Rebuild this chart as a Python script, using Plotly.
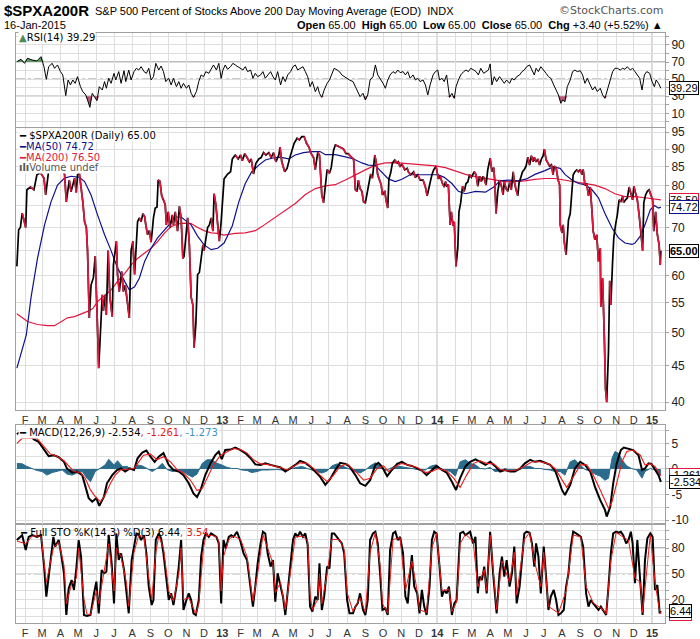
import numpy as np
import pandas as pd
import plotly.graph_objects as go

# dates are kept as day numbers counted from 1 Jan 2013
BASE = pd.Timestamp("2013-01-01")

# ---- $SPXA200R close ----
price_day = [-349, -346, -343, -340, -337, -334, -332, -326, -320, -315, -309, -303, -300, -295, -289, -283,
             -278, -272, -268, -265, -260, -257, -251, -248, -246, -243, -237, -234, -231, -229, -226, -223,
             -219, -216, -213, -210, -207, -204, -202, -199, -197, -194, -191, -187, -185, -180, -178, -175,
             -171, -168, -165, -162, -158, -155, -152, -149, -147, -144, -141, -138, -135, -132, -130, -127,
             -124, -121, -119, -117, -114, -111, -109, -106, -103, -100, -97, -95, -92, -89, -85, -83, -80,
             -76, -73, -70, -67, -65, -62, -59, -56, -53, -50, -48, -45, -42, -39, -36, -33, -31, -28, -25,
             -22, -19, -16, -14, -11, -8, -5, -2, 1, 3, 9, 14, 17, 22, 27, 31, 34, 38, 42, 46, 49, 53, 57,
             62, 66, 70, 74, 79, 83, 87, 91, 96, 98, 101, 106, 110, 114, 118, 122, 127, 131, 135, 139, 143,
             147, 151, 155, 158, 162, 165, 169, 172, 175, 178, 182, 185, 189, 192, 197, 202, 206, 210, 214,
             219, 223, 226, 229, 231, 234, 237, 240, 243, 246, 248, 252, 255, 259, 261, 264, 267, 270, 272,
             276, 278, 281, 283, 286, 289, 293, 297, 299, 302, 305, 310, 314, 316, 320, 325, 328, 332, 336,
             341, 345, 348, 350, 353, 356, 359, 363, 367, 370, 374, 377, 379, 381, 384, 387, 389, 392, 394,
             397, 400, 402, 405, 408, 411, 414, 417, 420, 423, 426, 428, 431, 434, 437, 440, 443, 445, 448,
             451, 455, 458, 461, 463, 465, 468, 471, 474, 477, 479, 482, 485, 488, 491, 494, 496, 499, 502,
             504, 507, 510, 513, 516, 519, 522, 525, 528, 530, 533, 536, 539, 542, 545, 547, 550, 553, 556,
             559, 562, 564, 567, 570, 573, 574, 577, 579, 581, 584, 586, 588, 591, 594, 596, 599, 602, 605,
             608, 611, 613, 616, 619, 622, 625, 628, 630, 633, 636, 639, 642, 643, 646, 649, 651, 653, 656,
             658, 660, 663, 665, 668, 671, 674, 677, 680, 682, 685, 688, 691, 694, 697, 699, 702, 705, 708,
             711, 714, 716, 719, 722, 725, 728, 731, 733, 736, 739, 742, 744, 745]
price_val = [61.8, 69.5, 70, 73.3, 71.7, 70, 79, 79.7, 79, 82.9, 83.4, 82, 77.7, 84, 85.5, 84.5,
             86, 85, 83, 76, 81.5, 78.5, 82, 78.3, 82.9, 83.4, 76, 71.3, 70, 65, 52.4, 58.2,
             59.6, 63.9, 53.8, 44.6, 50.1, 56.4, 53.6, 56.4, 52.9, 65, 56, 52.6, 62.1, 67, 60.2, 57,
             60.8, 57, 58.2, 56, 52.4, 65, 67, 60.2, 65, 71.3, 72.2, 71.3, 73.2, 72.5, 70.6, 68.4,
             69.3, 66.8, 69.3, 72.2, 74.5, 74.7, 81.5, 81.2, 77.5, 76.6, 75.3, 70.6, 73.6, 70, 72.9, 70.6, 73.6,
             69.2, 74.9, 72.2, 63.4, 63.8, 68.4, 72.2, 66.2, 56, 54.6, 47.6, 51.3, 60.2, 60.6, 63.4, 66.2, 65, 67.7, 70,
             70.6, 72.2, 69.2, 78, 75.3, 70.6, 67, 71.3, 79, 81.8, 83.1, 83.7, 87.2, 88.3, 87.2, 88.3, 86.7, 88.7, 87.6, 86.4, 87.2, 83.1, 86,
             87.2, 87.6, 89, 88.3, 89, 87.6, 89, 86.4, 88.3, 90.6, 86.4, 83.7, 84.6, 87.2, 89.7, 91.7, 93.2, 92.7, 93.7, 93.7, 91.7,
             90.6, 88.7, 87.6, 84.3, 89, 88.3, 77.7, 75.8, 80.2, 84.3, 83.3, 84.8, 89.7, 91.2, 90.8, 90.4, 90, 88.7, 88.7,
             87.7, 87.2, 79, 78.6, 81.5, 79.3, 78.6, 76, 75.8, 77.9, 79.9, 83.1, 82, 88.3, 86.6, 82.9, 81.5, 80.2, 77.7,
             78.7, 76.5, 74.5, 81.8, 83.4, 86.1, 86.9, 86.1, 86.4, 85, 85.8, 84.2, 84.6, 83.7, 82.9, 83.7, 82.2, 82.9, 81.5,
             81.5, 79.7, 77.5, 79, 81.1, 82.9, 84.2, 85.2, 81.8, 82.5, 80.6, 79.7, 81.1, 80, 80.3, 70.6, 73.6, 70.4, 71.3,
             61.8, 65.5, 73.6, 75.8, 79.9, 78.6, 80.6, 81, 82.9, 82.2, 83.3, 83.7, 82.9, 79.9, 82.5, 81.1, 82.5, 81.8, 80.2,
             84.3, 87.4, 83.7, 84.8, 80.9, 73.2, 78.6, 81.5, 80, 77.7, 81.1, 79.3, 78.6, 80.9, 79, 83.7, 81.1, 79, 77.5,
             80.7, 82.6, 83.7, 84.3, 85.2, 87.7, 85.5, 88.1, 86.4, 87.7, 86.4, 87.2, 85.5, 87.2, 88.1, 90, 87, 86.1, 85.2,
             85.6, 82.9, 85.2, 84.8, 81.8, 80.2, 70.6, 68.8, 70.6, 66.8, 64.1, 68.4, 71.7, 73.2, 78, 82.9, 83.7, 84.2, 83.7,
             84.3, 82.9, 84.3, 80.2, 80.6, 77.5, 79.7, 73.6, 69.2, 67.3, 68.4, 62.8, 65.5, 54.3, 59.5, 49, 41.7, 40, 47.1,
             59, 54.6, 62.8, 67.7, 70.6, 72.9, 76.5, 76.1, 77.3, 75.8, 76.5, 76.9, 79.7, 78.1, 76.5, 79.9, 78.1, 76.5, 72.9,
             69.5, 65, 75.8, 77.7, 78.6, 79, 77.7, 76.5, 69.2, 73.6, 68.4, 66.2, 62.1, 65]

# ---- moving averages ----
ma50_day = [-349, -333, -325, -314, -302, -291, -280, -268, -257, -243, -234, -223, -212, -200, -189, -178,
            -166, -158, -149, -141, -132, -121, -110, -98, -87, -79, -70, -62, -53, -42, -31, -19, -8, 3, 17,
            28, 39, 50, 62, 73, 84, 98, 113, 124, 138, 152, 166, 175, 192, 209, 223, 237, 248, 260, 271, 282,
            294, 305, 319, 333, 350, 367, 377, 390, 401, 413, 430, 447, 461, 472, 486, 503, 517, 531, 548, 562,
            574, 582, 594, 605, 616, 628, 639, 650, 662, 673, 684, 696, 701, 710, 718, 727, 734, 741, 745]
ma50_val = [44.6, 49.6, 55.9, 63.4, 70.6, 76, 80.2, 82, 82.5, 82.2, 81.1, 77.7, 72.9, 68.4, 65, 61.5,
            58.9, 57.3, 57.9, 59.5, 62.8, 65.5, 67.7, 69.5, 71.3, 72.4, 72.4, 71.5, 70.6, 68.1, 66.2, 65.2, 65.5, 66.6, 70.4,
            76, 80.6, 83.7, 85.5, 86.9, 87.4, 87.7, 87.2, 88.3, 89, 89.3, 89.3, 88.4, 88.4, 87.8, 87.2, 86.1, 85.5, 85.4, 83.7, 81.8,
            81.1, 81.7, 82.9, 82.9, 82.9, 82.9, 82.2, 80.6, 78.6, 78, 78.6, 78.4, 79.7, 81.3, 81.5, 81.3, 81.8, 83, 84, 85,
            84.6, 83, 81.5, 80.6, 80.3, 79, 77, 73.2, 69.9, 67.7, 66.6, 66.3, 66.6, 68.1, 70.6, 74.1, 75.1, 74.5, 74.72]

ma200_day = [-349, -331, -314, -297, -285, -274, -263, -251, -240, -229, -220, -212, -200, -189, -178, -166,
             -155, -144, -132, -121, -110, -98, -87, -76, -65, -53, -42, -31, -19, -8, 3, 22, 39, 56, 67, 79,
             90, 107, 124, 141, 158, 175, 192, 209, 226, 243, 260, 277, 294, 311, 328, 345, 362, 379, 396, 413,
             430, 447, 464, 480, 497, 514, 531, 548, 565, 582, 599, 616, 633, 650, 667, 684, 701, 718, 735, 745]
ma200_val = [53.1, 51.8, 51.3, 51.1, 51.1, 51.8, 52.4, 52.6, 53, 53.5, 54, 55.2, 56.3, 57.3, 58.9, 60.4,
             62.1, 63.4, 64.5, 65.5, 66.9, 68.8, 70.2, 70.8, 71, 70.9, 70, 69.3, 68.8, 68.7, 68.3, 68.7, 68.8, 69.3, 70.2, 71.3,
             72.4, 74.1, 75.6, 77.8, 79.3, 80, 80.3, 81.5, 82.9, 84.2, 85.5, 86.1, 86.2, 86, 85.8, 85.7, 85.3, 84.8, 83.9, 83,
             82.4, 81.9, 81.4, 81.1, 81.1, 81.3, 81.7, 81.9, 81.9, 81.5, 81.1, 80.6, 80.2, 79.3, 78, 77.3, 77.3, 77, 76.7, 76.5]

# ---- RSI(14) ----
rsi_day = [-349, -342, -336, -331, -323, -315, -308, -303, -299, -295, -289, -285, -280, -275, -271, -266,
           -262, -258, -254, -250, -246, -241, -237, -232, -229, -225, -221, -217, -213, -209, -204, -200,
           -197, -193, -189, -184, -181, -176, -172, -167, -164, -159, -155, -150, -146, -142, -138, -133,
           -129, -125, -121, -117, -113, -108, -104, -100, -96, -91, -87, -83, -78, -74, -70, -66, -61, -57,
           -53, -49, -44, -40, -36, -32, -28, -23, -19, -15, -10, -6, -2, 1, 5, 9, 14, 18, 22, 26, 31, 35,
           39, 43, 48, 52, 56, 60, 65, 69, 73, 77, 82, 86, 90, 94, 99, 103, 107, 111, 116, 120, 124, 128,
           133, 137, 141, 145, 149, 153, 158, 162, 165, 169, 173, 178, 182, 186, 190, 195, 199, 203, 207,
           212, 216, 222, 226, 230, 234, 239, 243, 247, 251, 256, 260, 264, 268, 273, 277, 281, 285, 290,
           294, 298, 302, 307, 311, 315, 319, 324, 328, 332, 336, 341, 345, 349, 353, 358, 362, 366, 369,
           373, 377, 381, 386, 390, 394, 397, 401, 405, 410, 414, 418, 422, 427, 431, 435, 439, 444, 448,
           452, 455, 458, 462, 466, 471, 475, 479, 483, 488, 492, 496, 500, 505, 509, 513, 517, 522, 526,
           530, 533, 537, 541, 546, 550, 554, 558, 563, 567, 571, 575, 578, 582, 586, 591, 595, 599, 603,
           608, 612, 616, 620, 625, 629, 633, 637, 642, 646, 650, 654, 659, 663, 667, 671, 676, 680, 684,
           688, 693, 697, 701, 705, 709, 713, 717, 721, 726, 730, 734, 737, 741, 745]
rsi_val = [70.5, 73.2, 68.5, 74.4, 72.4, 71.3, 76.3, 64.6, 49.8, 64.6, 68.5, 62.7, 66.6, 58.8, 54.9, 30.7,
           49, 43.2, 49, 45.1, 52.9, 41.2, 35.4, 31.5, 25.6, 17, 33.4, 29.5, 24.8, 41.2, 37.3, 47.1,
           39.3, 51, 45.1, 56.8, 49, 58.8, 45.1, 59.9, 47.1, 60.7, 49, 58.8, 62.7, 60.7, 64.6, 58.8,
           56.8, 62.7, 49, 52.9, 68.5, 60.7, 65.4, 58.8, 47.1, 51, 43.2, 51, 41.2, 47.1, 39.3, 45.1, 39.3, 43.2,
           33.4, 28.7, 35.4, 47.1, 54.9, 52.9, 58.8, 56.8, 62.7, 66.6, 60.7, 68.5, 51, 60.7, 66.6, 61.5, 64.6, 68.5, 66.6, 64.6, 62.7, 60.7,
           64.6, 58.8, 60.7, 51, 56.8, 52.9, 54.9, 58.8, 51, 54.9, 58.8, 52.9, 49, 58.8, 43.2, 52.9, 47.1, 54.9, 58.8, 64.6, 66.6, 60.7,
           62.7, 64.6, 58.8, 52.9, 41.2, 47.1, 35.4, 41.2, 33.4, 28.7, 37.3, 45.1, 49, 54.9, 62.7, 60.7, 58.8, 54.9, 52.9,
           51, 49, 47.1, 41.2, 35.4, 29.5, 33.4, 25.6, 31.5, 49, 52.9, 66.6, 54.9, 51, 45.1, 39.3, 49, 54.9, 58.8,
           56.8, 60.7, 57.6, 58.8, 54.9, 58.8, 51, 54.9, 49, 51, 47.1, 49, 43.2, 31.5, 43.2, 54.9, 58.8, 60.7, 49,
           51, 47.1, 54.9, 28.7, 33.4, 27.5, 41.2, 49, 54.9, 58.8, 60.7, 58.8, 62.7, 60.7, 58.8, 54.9, 62.7, 56.8, 58.8,
           60.7, 67.8, 43.2, 52.9, 47.1, 52.9, 49, 45.1, 49, 45.1, 51, 49, 52.9, 54.9, 58.8, 60.7, 64.6, 66.6, 60.7,
           54.9, 62.7, 58.8, 64.6, 60.7, 56.8, 52.9, 51, 43.2, 37.3, 31.5, 21.7, 25.6, 23.6, 41.2, 49, 58.8, 60.7, 58.8,
           59.9, 54.9, 45.1, 51, 43.2, 37.3, 41.2, 35.4, 39.3, 31.5, 27.5, 37.3, 51, 58.8, 62.7, 62.7, 60.7, 62.7, 61.5,
           64.6, 60.7, 62.7, 58.8, 54.9, 51, 37.3, 54.9, 58.8, 56.8, 47.1, 41.2, 49, 45.1, 39.29]

# ---- MACD(12,26,9) ----
macd_day = [-349, -340, -332, -320, -312, -303, -295, -286, -278, -269, -264, -255, -247, -238, -233, -227,
            -221, -214, -209, -201, -196, -187, -179, -172, -165, -157, -150, -144, -136, -129, -122, -115,
            -108, -100, -91, -83, -74, -66, -57, -49, -43, -37, -29, -20, -12, -6, -1, 5, 14, 22, 31, 39, 48,
            56, 65, 73, 82, 90, 99, 107, 116, 124, 132, 141, 149, 158, 166, 175, 183, 192, 200, 209, 216, 226,
            234, 243, 251, 260, 265, 271, 280, 288, 297, 305, 314, 322, 331, 339, 347, 356, 364, 373, 381, 390,
            397, 404, 413, 421, 430, 438, 447, 455, 463, 472, 480, 489, 497, 506, 514, 523, 531, 540, 548, 557,
            565, 571, 577, 582, 591, 599, 608, 616, 625, 633, 642, 650, 653, 659, 664, 670, 677, 682, 690, 698,
            707, 713, 718, 724, 729, 735, 741, 745]
macd_val = [6.8, 7.6, 7.0, 5.8, 5.3, 3.7, 2.5, 2.7, 2.3, 1.4, 0.1, -0.7, -0.5, -1.2, -3.5, -5.7,
            -6.4, -5.7, -7.2, -5.4, -2.8, -1.2, -0.2, 0.1, -0.5, 0.1, -0.2, 2.1, 3.2, 3.6, 2.4, 1.4,
            2.4, 3.1, 0.8, -0.2, -0.5, -1.2, -2.8, -4.8, -5.5, -4.1, -1.2, 1.1, 2.7, 3.4, 1.9, 3.7, 3.8, 4.2, 3.7, 3.1, 2.1,
            0.9, 0.8, 1.1, 0.8, 0.5, 0.3, -0.5, 0.1, 0.8, 1.6, 1.2, 0.5, -0.5, -1.5, -3.1, -2, -0.2, 1.2, 1.0, 0.5, -1.2,
            -2.8, -3.3, -2.2, 0.8, 1.2, 0.5, -1.4, -0.2, 1.0, 1.4, 0.8, 0.6, 0.1, -0.3, -1.2, -0.3, 0.6, -0.2, -0.7, -2.5,
            -4.1, -1.8, 0.5, 1.4, 1.9, 1.4, 0.8, 1.4, 0.6, -0.5, -0.2, -0.5, -0.5, 0.1, 1.1, 1.8, 1.4, 1.6, 1.2, 0.8,
            -0.2, -2.2, -4.1, -5.1, -3.1, 0.1, 1.4, 0.8, -0.5, -3.5, -6.1, -8, -9.3, -7.4, -2.8, 1.1, 3.7, 4.2, 4.0, 3.7,
            2.7, -0.2, 0.1, 1.1, 1.0, -0.2, -1.2, -2.534]

signal_day = [-349, -340, -315, -303, -292, -281, -269, -261, -252, -241, -233, -224, -216, -207, -199, -190,
              -182, -173, -162, -150, -142, -134, -122, -111, -100, -88, -77, -66, -54, -43, -34, -26, -15, -3,
              8, 19, 31, 42, 53, 65, 76, 87, 99, 110, 121, 132, 144, 155, 166, 178, 189, 200, 212, 217, 229, 240,
              251, 263, 274, 282, 294, 305, 316, 331, 345, 356, 367, 381, 393, 404, 415, 427, 438, 449, 461, 472,
              486, 500, 514, 526, 540, 554, 565, 577, 585, 596, 608, 619, 630, 642, 656, 662, 670, 679, 687, 698,
              710, 718, 727, 735, 745]
signal_val = [5.0, 6.0, 6.0, 4.4, 2.9, 2.5, 1.6, 0.6, -0.5, -0.7, -1.8, -4.1, -5.4, -6.4, -5.1, -2.8,
              -1.2, -0.2, -0.1, 0.1, 1.4, 2.7, 2.9, 1.8, 2.4, 1.4, -0.1, -0.8, -2.2, -4.2, -3.8, -1.8, 0.8, 2.7,
              3.4, 4.0, 3.8, 3.1, 1.8, 1.0, 0.9, 0.6, 0.3, -0.2, 0.5, 1.2, 1.1, 0.1, -1.2, -2.5, -1.2, 0.5, 1.0, 0.5, -0.8, -2.2,
              -1.8, 0.1, 0.6, -0.5, 0.5, 1.1, 0.8, 0.3, -0.7, -0.5, 0.1, -0.4, -1.8, -3.6, -1.2, 1.1, 1.6, 1.1, 1.0, -0.1,
              -0.4, -0.2, 0.6, 1.4, 1.4, 1.0, 0.1, -2.2, -3.6, -1.6, 0.8, 0.8, -1.2, -4.1, -7.7, -6.4, -2.5, 1.4, 3.4, 3.7,
              2.7, 0.8, 1.0, 0.5, -1.261]

hist_day = [-349, -340, -332, -323, -315, -306, -298, -289, -281, -272, -264, -255, -247, -238, -230, -224,
            -216, -207, -199, -193, -184, -178, -170, -162, -153, -145, -136, -128, -119, -111, -102, -94, -85,
            -77, -68, -60, -51, -43, -34, -26, -18, -9, -1, 8, 16, 25, 33, 42, 50, 59, 67, 76, 84, 93, 101, 110,
            118, 127, 135, 144, 152, 161, 169, 178, 186, 195, 203, 212, 217, 226, 234, 243, 251, 260, 268, 277,
            285, 294, 302, 311, 319, 328, 336, 345, 353, 362, 370, 379, 387, 396, 404, 413, 421, 430, 438, 447,
            455, 463, 472, 480, 489, 497, 506, 514, 523, 531, 540, 548, 557, 565, 574, 582, 591, 599, 608, 616,
            625, 633, 642, 650, 656, 662, 667, 673, 679, 687, 695, 704, 713, 718, 727, 735, 741, 745]
hist_val = [1.1, 1.0, 0.5, 0.1, -0.3, -0.5, -1.2, -0.7, -0.4, -0.2, -1.0, -1.2, -0.8, -0.5, -1.8, -2.5,
            -0.5, 0.1, 0.8, 1.9, 0.8, 1.6, 0.5, 0.5, -0.2, 0.8, 0.6, 0.1, -0.5, 0.1, 1.1, -0.1, -0.5,
            -0.3, -0.5, -1.0, -1.6, -1.0, 1.1, 1.8, 1.8, 1.1, 0.8, 0.3, 0.1, 0.1, -0.2, -0.3, -0.7, -0.5, -0.2, -0.2, -0.1, -0.1, -0.2, -0.3,
            0.1, 0.3, 0.5, 0.1, -0.2, -0.5, -0.8, -0.4, 0.6, 1.0, 0.6, 0.1, -0.2, -0.5, -0.8, -0.2, 0.6, 1.2, 0.6, -0.3,
            0.1, 0.6, 0.5, 0.3, 0.1, -0.1, -0.2, -0.2, 0.5, 0.8, 0.1, -0.2, -0.5, -1.4, 1.4, 1.8, 1.1, 0.8, 0.1, 0,
            0.3, -0.5, -0.4, 0.1, -0.2, -0.3, -0.1, 0.5, 0.5, 0.1, 0.1, -0.1, -0.2, -0.5, -0.5, -1.2, 1.4, 1.8, 0.8, -0.1,
            -0.4, -1.0, -1.4, -2.2, -1.8, 2.1, 3.4, 3.1, 1.8, 0.6, 0.1, -0.2, -1.8, -0.5, 0.1, -0.2, -1.0, -1.273]

# ---- Full STO %K(14,3) %D(3) ----
stok_day = [-349, -340, -334, -329, -323, -315, -308, -303, -299, -293, -287, -284, -278, -274, -269, -265,
            -261, -256, -252, -248, -244, -240, -235, -230, -224, -218, -214, -210, -205, -201, -197, -193,
            -188, -184, -180, -176, -172, -167, -163, -159, -154, -150, -146, -142, -138, -133, -129, -125,
            -120, -117, -113, -108, -104, -100, -95, -91, -87, -83, -78, -74, -70, -66, -61, -57, -53, -49,
            -45, -40, -36, -32, -28, -23, -19, -15, -10, -6, -2, 2, 6, 11, 15, 19, 25, 31, 36, 42, 48, 52,
            56, 60, 65, 69, 73, 77, 82, 86, 90, 94, 99, 103, 107, 111, 116, 120, 124, 128, 132, 137, 141,
            145, 149, 153, 158, 162, 165, 169, 173, 178, 182, 186, 190, 195, 199, 203, 207, 212, 216, 222,
            226, 230, 234, 239, 243, 247, 251, 256, 260, 264, 268, 272, 277, 281, 285, 290, 294, 298, 302,
            307, 311, 315, 319, 322, 326, 331, 335, 339, 343, 347, 352, 356, 360, 364, 369, 373, 377, 381,
            385, 390, 394, 398, 404, 409, 413, 417, 421, 426, 430, 434, 437, 441, 445, 449, 455, 460, 463,
            466, 471, 475, 479, 483, 488, 492, 496, 500, 505, 509, 513, 517, 522, 526, 530, 533, 537, 541,
            546, 550, 554, 558, 563, 567, 571, 575, 580, 584, 588, 592, 596, 601, 605, 609, 613, 618, 622,
            626, 630, 635, 639, 643, 647, 652, 656, 660, 664, 669, 673, 677, 681, 686, 690, 694, 697, 701,
            705, 710, 714, 718, 722, 727, 731, 735, 739, 743, 745]
stok_val = [89.3, 95, 77.7, 93, 95, 93, 95, 60.2, 23.3, 58.3, 93, 81.6, 89.3, 73.8, 50.5, 1.9,
            33, 42.7, 31.1, 56.3, 89.3, 69.9, 1.9, 0.8, 1.9, 27.2, 40.8, 3.9, 54.4, 50.5, 52.4, 95,
            62.1, 15.5, 97, 66, 73.8, 54.4, 31.1, 3.9, 66, 83.5, 97, 96.3, 89.3, 95, 73.8, 35,
            13.6, 19.4, 89.3, 97, 91.3, 73.8, 42.7, 19.4, 27.2, 13.6, 35, 58.3, 89.3, 7.8, 19.4, 27.2, 19.4, 3.9,
            1.9, 19.4, 69.9, 89.3, 97, 93, 97, 95, 93, 85.4, 15.5, 89.3, 79.6, 93, 95, 93, 99, 87.4, 73.8, 66, 31.1, 11.7,
            35, 62.1, 85.4, 99, 97, 73.8, 58.3, 66, 17.5, 50.5, 35, 23.3, 1.9, 31.1, 62.1, 89.3, 97, 93, 99, 93, 97,
            83.5, 11.7, 5.8, 23.3, 19.4, 62.1, 7.8, 23.3, 58.3, 56.3, 97, 97, 93, 89.3, 85.4, 73.8, 19.4, 3.9, 3.9,
            11.7, 15.5, 27.2, 7.8, 1.9, 19.4, 89.3, 97, 99, 85.4, 50.5, 7.8, 9.7, 1.9, 77.7, 97, 99, 89.3, 93,
            73.8, 23.3, 15.5, 50.5, 71.8, 35, 27.2, 3.9, 31.1, 11.7, 1.9, 35, 89.3, 99, 97, 58.3, 23.3, 31.1, 27.2,
            35, 1.9, 15.5, 19.4, 97, 99, 95, 97, 99, 85.4, 93, 27.2, 46.6, 42.7, 58.3, 27.2, 99, 50.5, 23.3,
            3.9, 50.5, 69.9, 46.6, 66, 35, 50.5, 81.6, 15.5, 35, 66, 97, 99, 97.9, 85.4, 58.3, 85.4, 69.9, 27.2,
            81.6, 46.6, 7.8, 23.3, 31.1, 19.4, 1.9, 3.9, 7.8, 35, 50.5, 81.6, 99, 97, 95, 93, 81.6, 27.2, 11.7,
            19.4, 15.5, 11.7, 7.8, 11.7, 7.8, 1.9, 35, 73.8, 97, 99, 97.9, 99, 95, 85.4, 89.3, 99, 85.4, 38.9,
            89.3, 35, 1.9, 66, 91.3, 97, 93, 31.1, 36.9, 3.9, 6.44]

stod_day = [-349, -334, -323, -308, -299, -287, -278, -269, -265, -256, -248, -244, -235, -230, -224, -214,
            -210, -201, -193, -184, -180, -172, -163, -159, -150, -142, -133, -125, -120, -113, -108, -100,
            -91, -83, -74, -70, -66, -57, -49, -45, -40, -32, -28, -19, -10, -6, -2, 2, 11, 19, 31, 42, 48,
            52, 60, 69, 77, 86, 90, 99, 107, 116, 124, 137, 145, 149, 153, 162, 165, 169, 178, 186, 199, 207,
            212, 222, 234, 243, 251, 260, 268, 272, 281, 290, 302, 311, 322, 331, 335, 347, 356, 364, 373, 385,
            390, 398, 404, 413, 426, 434, 445, 449, 455, 466, 475, 488, 496, 500, 513, 522, 530, 541, 546, 554,
            571, 584, 596, 609, 618, 630, 647, 652, 660, 669, 690, 701, 710, 714, 727, 735, 743, 745]
stod_val = [88, 85, 94, 94, 40, 80, 87, 60, 15, 38, 45, 80, 20, 3, 2, 30,
            15, 50, 85, 30, 80, 70, 40, 12, 75, 95, 93, 45, 20, 75, 94, 80,
            30, 18, 50, 80, 20, 22, 8, 3, 15, 80, 94, 95, 93, 88, 30, 70, 90, 94, 90, 70, 38,
            18, 50, 95, 80, 62, 28, 40, 8, 50, 93, 94, 88, 25, 8, 20, 50, 15, 50, 90, 90, 78,
            28, 6, 22, 5, 75, 98, 60, 15, 4, 90, 92, 30, 65, 30, 8, 5, 80, 97, 30, 32,
            6, 17, 85, 96, 88, 35, 55, 30, 95, 8, 65, 40, 75, 25, 90, 98, 65, 35, 75, 12,
            4, 30, 95, 93, 35, 16, 8, 3, 65, 98, 89, 45, 40, 5, 95, 40, 6, 3.54]

# month ticks along the date axis
month_ticks = pd.date_range("2012-02-01", "2015-01-01", freq="MS")
month_text = ["<b>%s</b>" % d.strftime("%y") if d.month == 1 else d.strftime("%b")[0] for d in month_ticks]
year_lines = ["2013-01-01", "2014-01-01", "2015-01-01"]
x_range = ["2012-01-16 12:00", "2015-01-23"]


def to_dates(days):
    return BASE + pd.to_timedelta(np.array(days), unit="D")


GRID = "#dedede"
FRAME = "#a0a0a0"
DARK = "#6e6e6e"
RED = "#e3173e"
NAVY = "#10108c"
TEAL = "#2b6c8c"
FONT = "Liberation Sans, Arial, sans-serif"
LFONT = "DejaVu Sans, Verdana, sans-serif"

fig = go.Figure()

# RSI panel (x4 / y4)
rsi_x = to_dates(rsi_day)
rsi_arr = np.array(rsi_val)
fig.add_trace(go.Scatter(x=rsi_x, y=[70] * len(rsi_x), mode="lines", line=dict(width=0),
                         xaxis="x4", yaxis="y4", hoverinfo="skip"))
fig.add_trace(go.Scatter(x=rsi_x, y=np.maximum(rsi_arr, 70), mode="lines", line=dict(width=0),
                         fill="tonexty", fillcolor="#5f9a63", xaxis="x4", yaxis="y4", hoverinfo="skip"))
fig.add_trace(go.Scatter(x=rsi_x, y=[30] * len(rsi_x), mode="lines", line=dict(width=0),
                         xaxis="x4", yaxis="y4", hoverinfo="skip"))
fig.add_trace(go.Scatter(x=rsi_x, y=np.minimum(rsi_arr, 30), mode="lines", line=dict(width=0),
                         fill="tonexty", fillcolor="#b9557a", xaxis="x4", yaxis="y4", hoverinfo="skip"))
fig.add_trace(go.Scatter(x=rsi_x, y=rsi_val, mode="lines", line=dict(color="black", width=1),
                         xaxis="x4", yaxis="y4"))

# price panel (x3 / y3)
fig.add_trace(go.Scatter(x=to_dates(ma200_day), y=ma200_val, mode="lines",
                         line=dict(color=RED, width=1.2), xaxis="x3", yaxis="y3"))
fig.add_trace(go.Scatter(x=to_dates(ma50_day), y=ma50_val, mode="lines",
                         line=dict(color=NAVY, width=1.2), xaxis="x3", yaxis="y3"))
px_dates = to_dates(price_day)
fig.add_trace(go.Scatter(x=px_dates, y=price_val, mode="lines",
                         line=dict(color="black", width=1.7), xaxis="x3", yaxis="y3"))
# down days are drawn in red on top of the black line
seg_x, seg_y = [], []
for i in range(1, len(price_val)):
    if price_val[i] < price_val[i - 1]:
        seg_x += [px_dates[i - 1], px_dates[i], None]
        seg_y += [price_val[i - 1], price_val[i], None]
fig.add_trace(go.Scatter(x=seg_x, y=seg_y, mode="lines", line=dict(color=RED, width=1.7),
                         connectgaps=False, xaxis="x3", yaxis="y3"))

# MACD panel (x2 / y2)
fig.add_trace(go.Scatter(x=to_dates(hist_day), y=hist_val, mode="lines", line=dict(color=TEAL, width=1),
                         fill="tozeroy", fillcolor=TEAL, xaxis="x2", yaxis="y2"))
fig.add_trace(go.Scatter(x=to_dates(macd_day), y=macd_val, mode="lines",
                         line=dict(color="black", width=2), xaxis="x2", yaxis="y2"))
fig.add_trace(go.Scatter(x=to_dates(signal_day), y=signal_val, mode="lines",
                         line=dict(color="#f01818", width=1.1), xaxis="x2", yaxis="y2"))

# STO panel (x / y)
fig.add_trace(go.Scatter(x=to_dates(stok_day), y=stok_val, mode="lines",
                         line=dict(color="black", width=2), xaxis="x", yaxis="y"))
fig.add_trace(go.Scatter(x=to_dates(stod_day), y=stod_val, mode="lines",
                         line=dict(color="#f01818", width=1), xaxis="x", yaxis="y"))


def xaxis(anchor, labels):
    return dict(type="date", range=x_range, anchor=anchor, domain=[0, 1], automargin=False,
                tickvals=month_ticks, ticktext=month_text, showticklabels=labels,
                showgrid=True, gridcolor=GRID, gridwidth=1, zeroline=False,
                showline=True, linecolor=FRAME, mirror=True, ticks="",
                tickfont=dict(family=FONT, size=11, color="#333"))


def yaxis(domain, rng, vals, text, axtype="linear"):
    return dict(type=axtype, domain=domain, range=rng, side="right", automargin=False,
                tickvals=vals, ticktext=text, showgrid=True, gridcolor=GRID, zeroline=False,
                showline=True, linecolor=FRAME, mirror=True, ticks="outside", ticklen=3,
                tickcolor=FRAME, tickfont=dict(family=FONT, size=12, color="#222"))


rsi_ticks = list(range(0, 101, 10))
sto_ticks = list(range(0, 101, 10))
price_ticks = list(range(40, 96, 5))
macd_ticks = [-10, -7.5, -5, -2.5, 0, 2.5, 5, 7.5]

fig.update_layout(
    width=700, height=639,
    margin=dict(l=16, r=35, t=33, b=16, autoexpand=False),
    paper_bgcolor="white", plot_bgcolor="white",
    showlegend=False,
    xaxis=xaxis("y", True),
    xaxis2=xaxis("y2", False),
    xaxis3=xaxis("y3", True),
    xaxis4=xaxis("y4", False),
    yaxis=yaxis([0, 0.1678], [-7.4, 108], sto_ticks,
                [str(v) if v in (20, 50, 80) else "" for v in sto_ticks]),
    yaxis2=yaxis([0.1678, 0.3356], [-10.76, 8.6], macd_ticks,
                 ["-10", "", "-5", "", "0", "", "5", ""]),
    # 65 and 75 sit under the value tags, as in the original
    yaxis3=yaxis([0.361, 0.839], [np.log10(39.0), np.log10(96.3)], price_ticks,
                 ["" if v in (65, 75) else str(v) for v in price_ticks], axtype="log"),
    yaxis4=yaxis([0.8407, 1.0], [-6, 104], rsi_ticks,
                 [str(v) if v in (10, 30, 50, 70, 90) else "" for v in rsi_ticks]),
)
fig.update_layout(yaxis=dict(anchor="x"), yaxis2=dict(anchor="x2"),
                  yaxis3=dict(anchor="x3"), yaxis4=dict(anchor="x4"))

shapes = []
# darker year separators in every panel
for xa, ya in (("x", "y"), ("x2", "y2"), ("x3", "y3"), ("x4", "y4")):
    for d in year_lines:
        shapes.append(dict(type="line", xref=xa, yref=ya + " domain", x0=d, x1=d, y0=0, y1=1,
                           line=dict(color="#b4b4b4", width=1.2), layer="below"))
# overbought / oversold levels
for xa, ya, lo, mid, hi in (("x4", "y4", 30, 50, 70), ("x", "y", 20, 50, 80)):
    for lvl, dash in ((lo, "solid"), (hi, "solid"), (mid, "dashdot")):
        shapes.append(dict(type="line", xref=xa + " domain", yref=ya, x0=0, x1=1, y0=lvl, y1=lvl,
                           line=dict(color=DARK, width=1, dash=dash), layer="below"))
fig.update_layout(shapes=shapes)


def px_x(p):
    return (p - 16) / 649.0


def px_y(p):
    return (623 - p) / 590.0


ann = []
# header
ann.append(dict(x=px_x(2), y=px_y(11), text="<b>$SPXA200R</b>", font=dict(family=FONT, size=15, color="black")))
ann.append(dict(x=px_x(93), y=px_y(11), text="S&P 500 Percent of Stocks Above 200 Day Moving Average (EOD)  INDX",
                font=dict(family=FONT, size=11, color="black")))
ann.append(dict(x=px_x(2), y=px_y(25), text="16-Jan-2015", font=dict(family=FONT, size=11, color="black")))
ann.append(dict(x=px_x(665), y=px_y(10), xanchor="right", text="©StockCharts.com",
                font=dict(family=LFONT, size=11, color="#555")))
ann.append(dict(x=px_x(665), y=px_y(25), xanchor="right",
                text="<b>Open</b> 65.00  <b>High</b> 65.00  <b>Low</b> 65.00  <b>Close</b> 65.00  "
                     "<b>Chg</b> +3.40 (+5.52%) ▲",
                font=dict(family=FONT, size=11, color="black")))

# panel labels (white boxes hide the lines behind them)
lab = dict(family=LFONT, size=10)
ann.append(dict(x=px_x(18), y=px_y(38), text="<span style='color:#4d8a55'>▲</span>RSI(14) 39.29",
                font=dict(lab, color="black")))
ann.append(dict(x=px_x(18), y=px_y(135), text="━ $SPXA200R (Daily) 65.00", font=dict(lab, color="black")))
ann.append(dict(x=px_x(18), y=px_y(146), text="━MA(50) 74.72", font=dict(lab, color=NAVY)))
ann.append(dict(x=px_x(18), y=px_y(157), text="━MA(200) 76.50", font=dict(lab, color=RED)))
ann.append(dict(x=px_x(18), y=px_y(168), text="<b>ılı</b>Volume undef", font=dict(lab, color="#555")))
ann.append(dict(x=px_x(18), y=px_y(432),
                text="━ MACD(12,26,9) -2.534<span style='color:#e31a1a'>, -1.261</span>"
                     "<span style='color:#3a92c4'>, -1.273</span>",
                font=dict(lab, color="black")))
ann.append(dict(x=px_x(18), y=px_y(532),
                text="━ Full STO %K(14,3) %D(3) 6.44<span style='color:#e31a1a'>, 3.54</span>",
                font=dict(lab, color="black")))
for a in ann:
    a.update(xref="paper", yref="paper", showarrow=False, yanchor="middle")
    a.setdefault("xanchor", "left")
for a in ann[5:11]:
    a.update(bgcolor="white", borderpad=0)


# value tags on the right edge
def tag(yref, yval, text, color, bold=False):
    return dict(xref="paper", yref=yref, x=1.006, y=yval, xanchor="left", yanchor="middle",
                text="<b>%s</b>" % text if bold else text, showarrow=False,
                font=dict(family=FONT, size=11, color="black"),
                bgcolor="white", bordercolor=color, borderwidth=1, borderpad=0)


ann += [
    tag("y4", 39.29, "39.29", "black"),
    tag("y3", np.log10(76.5), "76.50", RED),
    tag("y3", np.log10(74.72), "74.72", NAVY),
    tag("y3", np.log10(65.0), "65.00", "black", bold=True),
    tag("y2", -1.261, "-1.261", RED),
    tag("y2", -2.534, "-2.534", "black"),
    tag("y", 3.54, "3.54", RED),
    tag("y", 6.44, "6.44", "black"),
]
fig.update_layout(annotations=ann)

# the page's default body margin would push the 700x639 figure off the window
fig.write_html("out.html", config={"displayModeBar": False},
               post_script="document.body.style.margin='0';document.body.style.overflow='hidden';")
